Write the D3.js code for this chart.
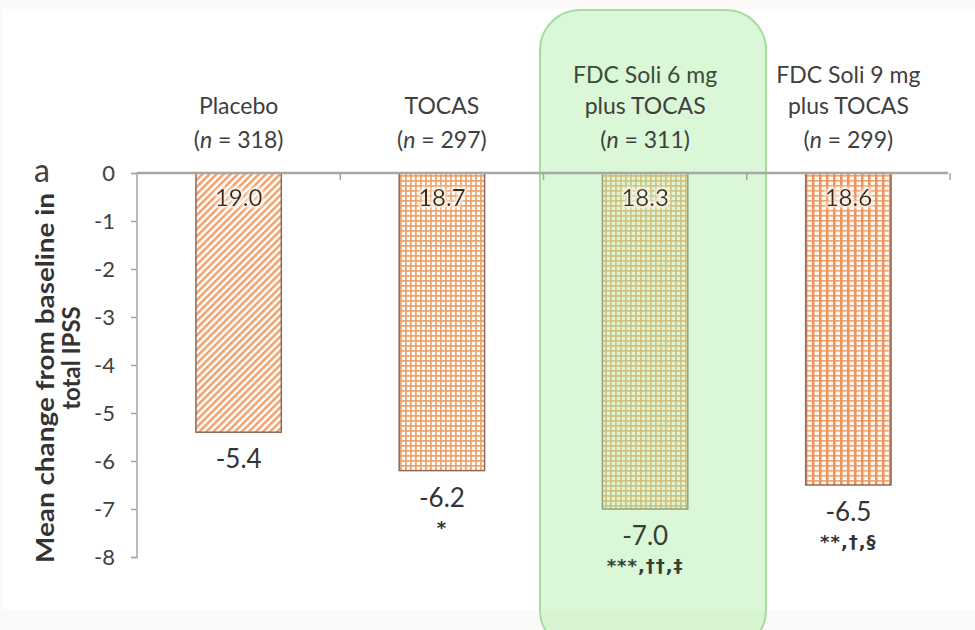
<!DOCTYPE html>
<html><head><meta charset="utf-8">
<script src="https://cdn.jsdelivr.net/npm/d3@7"></script>
<style>body{margin:0;background:#fbfaf8}svg{display:block}</style>
</head><body><svg id="c" width="975" height="630"></svg>
<script>
const groups = ["Placebo", "TOCAS", "FDC6", "FDC9"];
const groupLine1 = ["", "", "FDC Soli 6 mg", "FDC Soli 9 mg"];
const groupLine2 = ["Placebo", "TOCAS", "plus  TOCAS", "plus  TOCAS"];
const groupN = [318, 297, 311, 299];
const baseline = [19.0, 18.7, 18.3, 18.6];
const change = [-5.4, -6.2, -7.0, -6.5];
const signif = ["", "*", "***,\u2020\u2020,\u2021", "**,\u2020,\u00a7"];
const yTicks = [0, -1, -2, -3, -4, -5, -6, -7, -8];
const patterns = ["diag", "grid", "grid", "vgrid"];

const svg = d3.select("#c");
const font = "Lato, 'Open Sans', sans-serif";
svg.append("rect").attr("x",3).attr("y",9).attr("width",972).attr("height",601).attr("fill","#ffffff");

const x = d3.scaleBand().domain(groups).range([137, 950]).paddingInner(0.58).paddingOuter(0.29);
const y = d3.scaleLinear().domain([0, -8]).range([173, 557]);

// patterns
const defs = svg.append("defs");
const pd = defs.append("pattern").attr("id","diag").attr("patternUnits","userSpaceOnUse")
  .attr("width",5).attr("height",5).attr("patternTransform","rotate(-45)");
pd.append("rect").attr("width",5).attr("height",5).attr("fill","#ffffff");
pd.append("rect").attr("width",5).attr("height",2.5).attr("fill","#f0a06c");
const pg = defs.append("pattern").attr("id","grid").attr("patternUnits","userSpaceOnUse").attr("width",5).attr("height",5);
pg.append("rect").attr("width",5).attr("height",5).attr("fill","#ffffff");
pg.append("rect").attr("width",5).attr("height",1.8).attr("fill","#ee9e62").attr("opacity",0.9);
pg.append("rect").attr("width",1.8).attr("height",5).attr("fill","#ee9e62").attr("opacity",0.9);
const pv = defs.append("pattern").attr("id","vgrid").attr("patternUnits","userSpaceOnUse").attr("width",7).attr("height",5);
pv.append("rect").attr("width",7).attr("height",5).attr("fill","#fff6ee");
pv.append("rect").attr("width",7).attr("height",1.6).attr("fill","#f0a46e");
pv.append("rect").attr("width",2.5).attr("height",5).attr("fill","#ea9462");
const glow = defs.append("filter").attr("id","glow").attr("x","-20%").attr("y","-20%").attr("width","140%").attr("height","140%");
glow.append("feMorphology").attr("in","SourceAlpha").attr("operator","dilate").attr("radius",1.5).attr("result","d");
glow.append("feGaussianBlur").attr("in","d").attr("stdDeviation",1.5).attr("result","b");
glow.append("feFlood").attr("flood-color","#fff8f0").attr("flood-opacity",0.85);
glow.append("feComposite").attr("in2","b").attr("operator","in").attr("result","g");
const fm = glow.append("feMerge"); fm.append("feMergeNode").attr("in","g"); fm.append("feMergeNode").attr("in","SourceGraphic");

// bars
svg.selectAll("rect.bar").data(groups).join("rect").attr("class","bar")
  .attr("x", d => x(d)).attr("width", x.bandwidth())
  .attr("y", y(0)).attr("height", (d,i) => y(change[i]) - y(0))
  .attr("fill", (d,i) => `url(#${patterns[i]})`)
  .attr("stroke", "#8a6a58").attr("stroke-width", 1.5);

// highlight box, translucent over the bar
svg.append("rect").attr("x", 540).attr("y", 10).attr("width", 226).attr("height", 640)
  .attr("rx", 40).attr("fill", "#a8eca0").attr("fill-opacity", 0.42)
  .attr("stroke", "#a6dc9e").attr("stroke-width", 2);

// y axis
const yAxis = d3.axisLeft(y).tickValues(yTicks).tickSize(6).tickFormat(d => String(d));
const ga = svg.append("g").attr("transform","translate(137,0)").call(yAxis);
ga.select(".domain").attr("stroke","#a6a6a6").attr("stroke-width",1.5).attr("d","M-6,173.5H0V557.5H-6");
ga.selectAll(".tick line").attr("stroke","#a6a6a6").attr("stroke-width",1.5);
ga.selectAll(".tick text").attr("font-family",font).attr("font-size",22).attr("fill","#404040").attr("x",-22);

// x axis line at zero
svg.append("line").attr("x1",137).attr("x2",948).attr("y1",y(0)).attr("y2",y(0)).attr("stroke","#a6a6a6").attr("stroke-width",2.5);
const edges = [1,2,3,4].map(i => x.range()[0] + x.step()*x.paddingOuter() - x.step()*x.paddingInner()/2 + i*x.step());
svg.selectAll("line.xt").data(edges).join("line").attr("class","xt")
  .attr("x1",d=>d).attr("x2",d=>d).attr("y1",y(0)).attr("y2",y(0)+7).attr("stroke","#a6a6a6").attr("stroke-width",1.5);

// category labels
const cx = d => x(d) + x.bandwidth()/2;
svg.selectAll("text.l1").data(groups).join("text").attr("class","l1")
  .attr("x", cx).attr("y", 83).text((d,i)=>groupLine1[i]);
svg.selectAll("text.l2").data(groups).join("text").attr("class","l2")
  .attr("x", cx).attr("y", 114).text((d,i)=>groupLine2[i]);
const l3 = svg.selectAll("text.l3").data(groups).join("text").attr("class","l3")
  .attr("x", cx).attr("y", 148);
l3.each(function(d,i){
  const t = d3.select(this);
  t.append("tspan").text("(");
  t.append("tspan").attr("font-style","italic").text("n");
  t.append("tspan").text(" = " + groupN[i] + ")");
});
svg.selectAll("text.l1,text.l2,text.l3").attr("text-anchor","middle").attr("font-family",font)
  .attr("font-size",23).attr("fill",(d,i)=> i===2 ? "#3c4a3a" : "#404040");

// baseline values inside bars
svg.selectAll("text.bv").data(groups).join("text").attr("class","bv")
  .attr("x", cx).attr("y", 206).attr("text-anchor","middle").attr("font-family",font)
  .attr("font-size",24).attr("fill",(d,i)=> i===2 ? "#2e3a24" : "#3a2a1e").attr("filter","url(#glow)")
  .text((d,i)=>baseline[i].toFixed(1));

// change values below bars
svg.selectAll("text.cv").data(groups).join("text").attr("class","cv")
  .attr("x", cx).attr("y", (d,i)=>y(change[i]) + 36).attr("text-anchor","middle").attr("font-family",font)
  .attr("font-size",26).attr("fill",(d,i)=> i===2 ? "#334033" : "#333333")
  .text((d,i)=>change[i].toFixed(1));
svg.selectAll("text.sg").data(groups).join("text").attr("class","sg")
  .attr("x", cx).attr("y", (d,i)=>y(change[i]) + 63).attr("text-anchor","middle").attr("font-family","'DejaVu Sans', sans-serif")
  .attr("font-size",18).attr("font-weight","bold").attr("letter-spacing",1).attr("fill",(d,i)=> i===2 ? "#334033" : "#333333")
  .text((d,i)=>signif[i]);

// y title
svg.append("text").attr("transform","translate(54,378) rotate(-90)").attr("text-anchor","middle")
  .attr("font-family",font).attr("font-size",24).attr("font-weight","bold").attr("fill","#333333")
  .attr("textLength",370).attr("lengthAdjust","spacingAndGlyphs").text("Mean change from baseline in");
svg.append("text").attr("transform","translate(80,358) rotate(-90)").attr("text-anchor","middle")
  .attr("font-family",font).attr("font-size",24).attr("font-weight","bold").attr("fill","#333333")
  .text("total IPSS");

svg.append("text").attr("x",42).attr("y",182).attr("text-anchor","middle").attr("font-family",font)
  .attr("font-size",32).attr("fill","#404040").text("a");
</script></body></html>
